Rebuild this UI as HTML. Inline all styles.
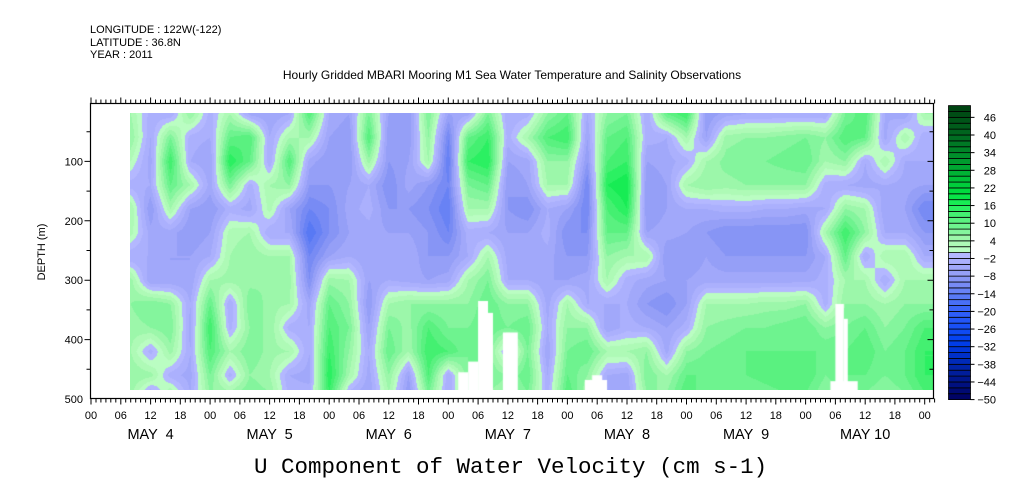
<!DOCTYPE html>
<html><head><meta charset="utf-8">
<style>
html,body{margin:0;padding:0;background:#fff;}
#wrap{position:relative;width:1009px;height:504px;overflow:hidden;font-family:"Liberation Sans",sans-serif;color:#000;}
.t{position:absolute;white-space:nowrap;font-size:11px;line-height:11px;}
</style></head>
<body>
<div id="wrap">
<div class="t" style="left:90px;top:25px">LONGITUDE : 122W(-122)</div>
<div class="t" style="left:90px;top:38px">LATITUDE : 36.8N</div>
<div class="t" style="left:90px;top:50px">YEAR : 2011</div>
<div class="t" style="left:0;width:1024px;text-align:center;top:70px;font-size:12px">Hourly Gridded MBARI Mooring M1 Sea Water Temperature and Salinity Observations</div>
<canvas id="hm" width="803" height="277" style="position:absolute;left:130px;top:113px"></canvas>
<svg id="ax" width="1009" height="504" style="position:absolute;left:0;top:0"></svg>
<div class="t" style="left:254px;top:455px;font-family:'Liberation Mono',monospace;font-size:22.5px;line-height:24px">U Component of Water Velocity (cm s-1)</div>
</div>
<script>
const hours=[8,12,16,20,24,28,32,36,40,44,48,52,56,60,64,68,72,76,80,84,88,92,96,100,104,108,112,116,120,124,128,132,136,140,144,148,152,156,160,164,168];
const depths=[20,60,100,140,180,220,260,300,340,380,420,460,490];
const uValues=[
[4,6,2,-3,4,3,-4,5,6,5,4,6,5],
[-3,-4,-5,-4,-8,-5,-4,-6,8,6,-3,5,-4],
[-4,8,14,10,4,-5,-6,-6,6,8,5,-3,4],
[6,-3,-4,4,-6,-8,-6,-6,-4,-5,-4,-5,-4],
[-3,-4,-6,-5,-8,-6,-4,4,10,14,12,8,6],
[4,10,16,8,-3,3,4,5,-4,-3,4,-3,5],
[-5,12,10,-3,-5,4,6,5,8,6,8,6,8],
[-6,-4,-4,4,3,-4,4,6,5,6,5,4,6],
[-4,4,12,6,-6,-4,4,5,4,-3,4,-4,-3],
[12,4,-5,-8,-12,-16,-12,-10,-5,-4,-4,-5,-3],
[-4,-6,-8,-8,-10,-10,-6,5,10,12,14,16,14],
[-6,-8,-8,-6,-5,-6,-4,4,6,8,6,4,-3],
[8,12,5,-4,-3,-5,-6,-6,-8,-6,-4,-5,-6],
[-6,-8,-8,-10,-8,-6,-6,-4,4,8,10,6,4],
[-8,-8,-6,-5,-8,-6,-4,-5,6,5,4,-6,-8],
[8,6,4,-8,-10,-8,-8,-6,6,12,14,12,8],
[-6,-12,-14,-12,-14,-12,-8,-5,6,8,12,-4,-4],
[-5,10,14,8,4,-3,-4,4,6,8,8,8,8],
[8,14,16,10,4,-4,4,8,10,10,8,8,6],
[-4,-3,-6,-8,-8,-6,-5,-4,6,8,-4,6,4],
[-3,4,-5,-6,-10,-6,-4,-4,6,10,8,10,8],
[6,12,6,4,-4,-3,-5,-6,-5,-4,-6,-4,-3],
[10,14,6,4,-6,-10,-8,-6,4,6,8,10,12],
[-4,-6,-8,-12,-12,-10,-8,-5,-4,6,10,6,4],
[6,10,12,16,12,10,6,4,-4,-6,4,-4,-4],
[8,12,14,18,16,10,4,-3,-4,-3,4,-5,-6],
[-4,-3,-6,-8,-8,-6,4,-5,-8,-4,6,8,6],
[10,-4,-5,-6,-6,-5,-8,-6,-10,-6,-5,4,6],
[14,4,-3,4,-4,-6,-8,-6,-6,-3,6,10,12],
[-8,-6,4,6,-4,-8,-6,-5,4,6,8,10,8],
[-5,5,7,5,-3,-10,-8,-5,4,7,9,9,8],
[-4,6,8,6,-3,-10,-8,-5,4,8,10,10,8],
[-4,6,8,6,-4,-10,-8,-5,5,8,10,11,9],
[-4,7,9,6,-4,-10,-8,-5,5,9,10,12,10],
[-4,8,10,6,-5,-10,-8,-5,6,10,10,12,10],
[-4,6,4,-3,-4,4,-4,-3,-3,6,10,8,6],
[8,12,6,-4,6,14,10,4,6,8,10,10,8],
[12,10,-4,-5,4,6,-4,4,6,10,12,10,8],
[-4,-5,4,-4,-6,-4,4,-4,4,6,8,8,6],
[-6,4,-4,-5,-6,-4,4,4,6,8,10,10,8],
[4,-4,-4,-6,-12,-8,-4,4,6,12,14,14,12]];
// missing-data gaps: [startHour,endHour,topDepth,bottomDepth]
const gaps=[[74,76,455,495],[76,78,437,495],[78,80,335,495],[80,81,355,495],[83,86,388,495],[99.5,104,468,495],[101,103,460,495],[150,151.7,340,495],[151.7,152.5,365,495],[149,154.5,470,495]];
const dayLabels=["MAY  4","MAY  5","MAY  6","MAY  7","MAY  8","MAY  9","MAY 10"];
const hourTickLabels=["00","06","12","18"];
const depthTicks=[100,200,300,400,500];
const cbarLabels=[46,40,34,28,22,16,10,4,-2,-8,-14,-20,-26,-32,-38,-44,-50];

const X=t=>91+t*4.9625;
const Y=d=>102+d*0.594;
const CB=v=>399.6-(v+50)*2.94;
const stops=[[-50,[0,0,96]],[-40,[0,32,160]],[-30,[0,64,240]],[-20,[50,96,250]],[-16,[80,116,244]],[-10,[128,144,244]],[-6,[156,164,248]],[-2,[176,180,255]],[0,[184,188,255]],[0.01,[192,255,200]],[4,[168,248,176]],[8,[120,244,150]],[12,[80,240,120]],[16,[30,240,90]],[20,[0,224,64]],[30,[0,160,48]],[40,[0,104,32]],[50,[0,64,16]]];
function col(v){
  if(v<=stops[0][0])return stops[0][1];
  for(let i=1;i<stops.length;i++){if(v<=stops[i][0]){const a=stops[i-1],b=stops[i],f=(v-a[0])/(b[0]-a[0]);return a[1].map((c,k)=>Math.round(c+(b[1][k]-c)*f));}}
  return stops[stops.length-1][1];
}
function binCol(v){const b=Math.floor(v/2)*2;return col(b+1);}
function seg(arr,v){let i=0;while(i<arr.length-2&&v>arr[i+1])i++;let f=(v-arr[i])/(arr[i+1]-arr[i]);f=Math.max(0,Math.min(1,f));return [i,f];}
const cv=document.getElementById('hm');const ctx=cv.getContext('2d');
const img=ctx.createImageData(cv.width,cv.height);
for(let py=0;py<cv.height;py++){
  const d=(113+py+0.5-102)/0.594;const [j,fy]=seg(depths,d);
  for(let px=0;px<cv.width;px++){
    const t=(130+px+0.5-91)/4.9625;const [i,fx]=seg(hours,t);
    const v00=uValues[i][j],v10=uValues[i+1][j],v01=uValues[i][j+1],v11=uValues[i+1][j+1];
    const v=(v00*(1-fx)+v10*fx)*(1-fy)+(v01*(1-fx)+v11*fx)*fy;
    const c=binCol(v);const o=(py*cv.width+px)*4;
    img.data[o]=c[0];img.data[o+1]=c[1];img.data[o+2]=c[2];img.data[o+3]=255;
  }
}
ctx.putImageData(img,0,0);
ctx.fillStyle='#fff';
gaps.forEach(g=>{ctx.fillRect(X(g[0])-130,Y(g[2])-113,X(g[1])-X(g[0]),Y(g[3])-Y(g[2]));});

const svg=document.getElementById('ax');const NS='http://www.w3.org/2000/svg';
function mk(tag,attrs,parent){const e=document.createElementNS(NS,tag);for(const k in attrs)e.setAttribute(k,attrs[k]);(parent||svg).appendChild(e);return e;}
const frame=mk('rect',{x:90.5,y:103.5,width:843,height:295,fill:'none',stroke:'#000','stroke-width':1.2});


let p='';
for(let h=0;h<=170;h++){const x=X(h).toFixed(1);const L=(h%6===0)?6:4;p+=`M${x} 103.5v-${L}M${x} 398.5v${L}`;}
for(let d=50;d<500;d+=50){const y=Y(d).toFixed(1);const L=(d%100===0)?6:4;p+=`M90.5 ${y}h-${L}M933.5 ${y}h-${L}`;}
const ticks=mk('path',{d:p,stroke:'#000','stroke-width':1,fill:'none'});


for(let h=0;h<=168;h+=6){
  const tx=mk('text',{x:X(h),y:419,'font-size':11,'text-anchor':'middle','font-family':'Liberation Sans, sans-serif'});
  tx.textContent=hourTickLabels[(h/6)%4];
  
  
}
dayLabels.forEach((s,k)=>{
  const tx=mk('text',{x:X(k*24+12),y:439,'font-size':14.5,'text-anchor':'middle','font-family':'Liberation Sans, sans-serif','xml:space':'preserve'});
  tx.textContent=s;tx.style.whiteSpace='pre';
  
  
});
depthTicks.forEach(d=>{
  const tx=mk('text',{x:83,y:Y(d)+4,'font-size':11,'text-anchor':'end','font-family':'Liberation Sans, sans-serif'});
  tx.textContent=d;
  
  
});
const yt=mk('text',{x:0,y:0,'font-size':11,'text-anchor':'middle','font-family':'Liberation Sans, sans-serif',transform:'translate(45,252) rotate(-90)'});
yt.textContent='DEPTH (m)';


for(let v=-50;v<50;v+=2){
  const c=col(v+1);
  const r=mk('rect',{x:948.5,y:CB(v+2),width:22,height:CB(v)-CB(v+2),fill:`rgb(${c[0]},${c[1]},${c[2]})`,stroke:'#000','stroke-width':0.8});
  
  
}
cbarLabels.forEach(v=>{
  const y=CB(v);
  const tk=mk('path',{d:`M970.5 ${y}h4`,stroke:'#000'});
  
  
  const tx=mk('text',{x:996,y:y+4,'font-size':11,'text-anchor':'end','font-family':'Liberation Sans, sans-serif'});
  tx.textContent=v<0?'\u2212'+(-v):v;
  
  
});
</script>
</body></html>
